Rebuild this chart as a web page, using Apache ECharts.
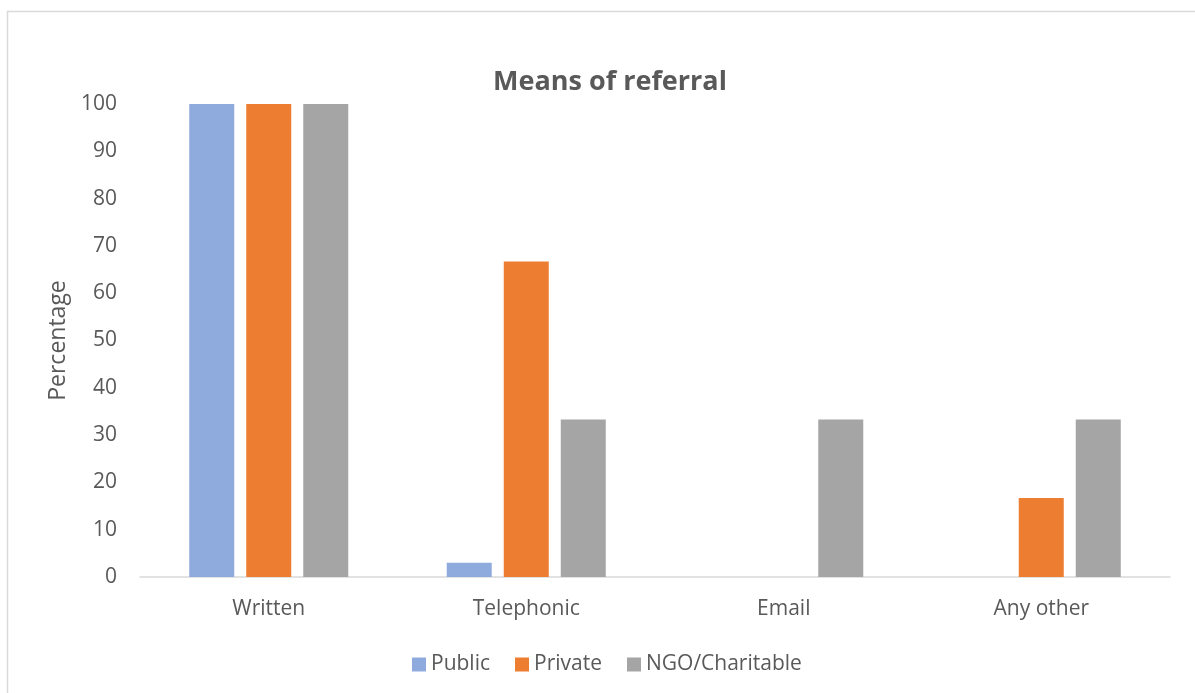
<!DOCTYPE html>
<html>
<head>
<meta charset="utf-8">
<script src="https://cdn.jsdelivr.net/npm/echarts@6/dist/echarts.min.js"></script>
<style>
  html, body { margin: 0; padding: 0; background: #fff; }
  #chart { width: 1195px; height: 693px; }
</style>
</head>
<body>
<div id="chart"></div>
<script>
// Means of referral, percentage of facilities by sector
const categories = ['Written', 'Telephonic', 'Email', 'Any other'];
const publicValues = [100, 3, 0, 0];
const privateValues = [100, 66.7, 0, 16.7];
const ngoValues = [100, 33.3, 33.3, 33.3];
const yTicks = { min: 0, max: 100, interval: 10 };

const textColor = '#595959';
const fontFamily = '"Open Sans", "Noto Sans", sans-serif';

const chart = echarts.init(document.getElementById('chart'), null, { renderer: 'canvas' });

function barSeries(name, data, color) {
  return {
    name: name,
    type: 'bar',
    data: data,
    barWidth: 45,
    barGap: '26.7%',
    itemStyle: { color: color },
    emphasis: { disabled: true }
  };
}

chart.setOption({
  animation: false,
  backgroundColor: '#ffffff',
  textStyle: { fontFamily: fontFamily, color: textColor },
  graphic: [{
    type: 'rect',
    shape: { x: 7.5, y: 11.5, width: 1200, height: 700 },
    style: { fill: 'none', stroke: '#d9d9d9', lineWidth: 1.5 },
    silent: true
  }],
  title: {
    text: 'Means of referral',
    left: 605,
    top: 64,
    textAlign: 'center',
    textStyle: { fontSize: 27, fontWeight: 'bold', color: textColor, fontFamily: fontFamily }
  },
  legend: {
    data: ['Public', 'Private', 'NGO/Charitable'],
    left: 412,
    top: 654,
    padding: 0,
    itemWidth: 14,
    itemHeight: 14,
    itemGap: 25,
    icon: 'rect',
    textStyle: { fontSize: 21, color: textColor, fontFamily: fontFamily }
  },
  grid: { left: 140, right: 25, top: 104, bottom: 116, containLabel: false },
  xAxis: {
    type: 'category',
    data: categories,
    axisLine: { lineStyle: { color: '#d9d9d9', width: 1.5 } },
    axisTick: { show: false },
    axisLabel: { fontSize: 21, color: textColor, margin: 22, fontFamily: fontFamily }
  },
  yAxis: {
    type: 'value',
    min: yTicks.min,
    max: yTicks.max,
    interval: yTicks.interval,
    name: 'Percentage',
    nameLocation: 'middle',
    nameGap: 70,
    nameTextStyle: { fontSize: 23, color: textColor, fontFamily: fontFamily },
    axisLine: { show: false },
    axisTick: { show: false },
    splitLine: { show: false },
    axisLabel: { fontSize: 21, color: textColor, margin: 23, fontFamily: fontFamily }
  },
  series: [
    barSeries('Public', publicValues, '#8faadc'),
    barSeries('Private', privateValues, '#ed7d31'),
    barSeries('NGO/Charitable', ngoValues, '#a5a5a5')
  ]
});
</script>
</body>
</html>
